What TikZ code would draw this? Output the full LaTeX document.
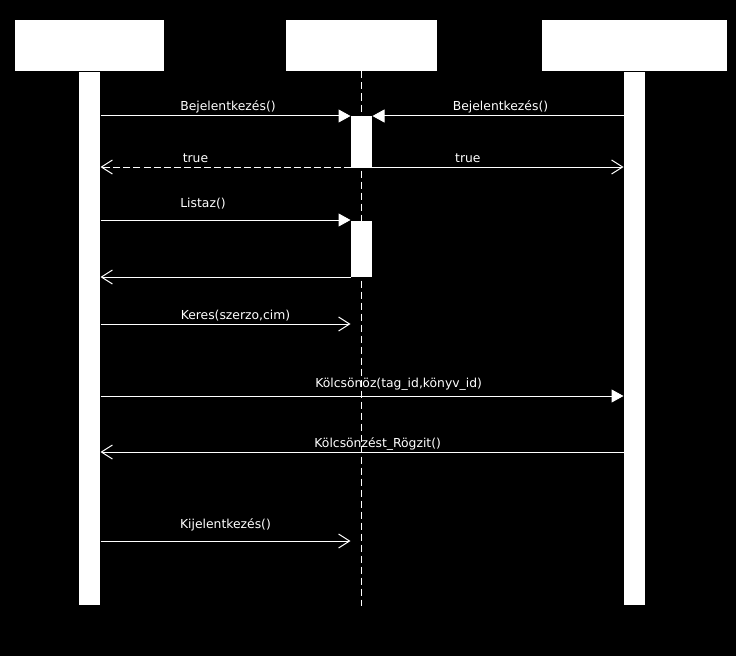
\documentclass[tikz,border=0pt]{standalone}
\usepackage{fontspec}
\setmainfont{DejaVu Sans}
\usetikzlibrary{arrows.meta,positioning}
\begin{document}
\begin{tikzpicture}[x=1bp, y=-1bp, line width=1bp, white,
    call/.style={-{Triangle[length=12bp,width=13bp]}},
    reply/.style={-{Straight Barb[length=11bp,width=14bp]}},
    msg/.style={font=\fontsize{12.4}{14}\selectfont, text=white, anchor=base, yshift=5bp, inner sep=0pt},
    objbox/.style={fill=white, inner sep=0pt, minimum height=51bp},
    bar/.style={fill=white, inner sep=0pt, minimum width=21bp, minimum height=533bp},
    act/.style={fill=white, inner sep=0pt, minimum width=21bp, anchor=north}]
    % Fekete hatter es keret
    \fill[black] (0,0) rectangle (736,656);
    \useasboundingbox (0,0) rectangle (736,656);

    % Objektumok es eletvonalak
    \node[objbox, minimum width=149bp] (objA) at (89.5,45.5) {};
    \node[objbox, minimum width=151bp] (objB) at (361.5,45.5) {};
    \node[objbox, minimum width=185bp] (objC) at (634.5,45.5) {};
    \node[bar, below=0pt of objA] (lifeA) {};
    \node[bar, below=0pt of objC] (lifeC) {};
    \draw[dash pattern=on 7bp off 4bp] (objB.south) -- (objB.south |- lifeA.south);

    % Aktivacios teglalapok
    \node[act, minimum height=50bp] (actA) at (objB.south |- 0,116) {};
    \node[act, minimum height=56bp] (actB) at (objB.south |- 0,220) {};

    % Uzenetek
    \draw[call] (lifeA.east |- actA.north) -- (actA.north west) node[msg, pos=.51] {Bejelentkezés()};
    \draw[call] (lifeC.west |- actA.north) -- (actA.north east) node[msg, pos=.49] {Bejelentkezés()};
    \draw[reply, dash pattern=on 7bp off 3bp] (actA.south west) -- (lifeA.east |- actA.south) node[msg, pos=.62] {true};
    \draw[reply] (actA.south west) -- (lifeC.west |- actA.south) node[msg, pos=.43] {true};
    \draw[call] (lifeA.east |- actB.north) -- (actB.north west) node[msg, pos=.41, yshift=8bp] {Listaz()};
    \draw[reply] (actB.south west) -- (lifeA.east |- actB.south);
    \coordinate (keres) at (objB.south |- 0,324);
    \draw[reply] (lifeA.east |- keres) -- (actA.west |- keres) node[msg, pos=.54] {Keres(szerzo,cim)};
    \coordinate (kolcs) at (objB.south |- 0,396);
    \draw[call] (lifeA.east |- kolcs) -- (lifeC.west |- kolcs) node[msg, pos=.57, yshift=4bp] {Kölcsönöz(tag\_id,könyv\_id)};
    \coordinate (rogzit) at (objB.south |- 0,452);
    \draw[reply] (lifeC.west |- rogzit) -- (lifeA.east |- rogzit) node[msg, pos=.47] {Kölcsönzést\_Rögzit()};
    \coordinate (kijel) at (objB.south |- 0,541);
    \draw[reply] (lifeA.east |- kijel) -- (actA.west |- kijel) node[msg, pos=.50, yshift=8bp] {Kijelentkezés()};
\end{tikzpicture}
\end{document}
